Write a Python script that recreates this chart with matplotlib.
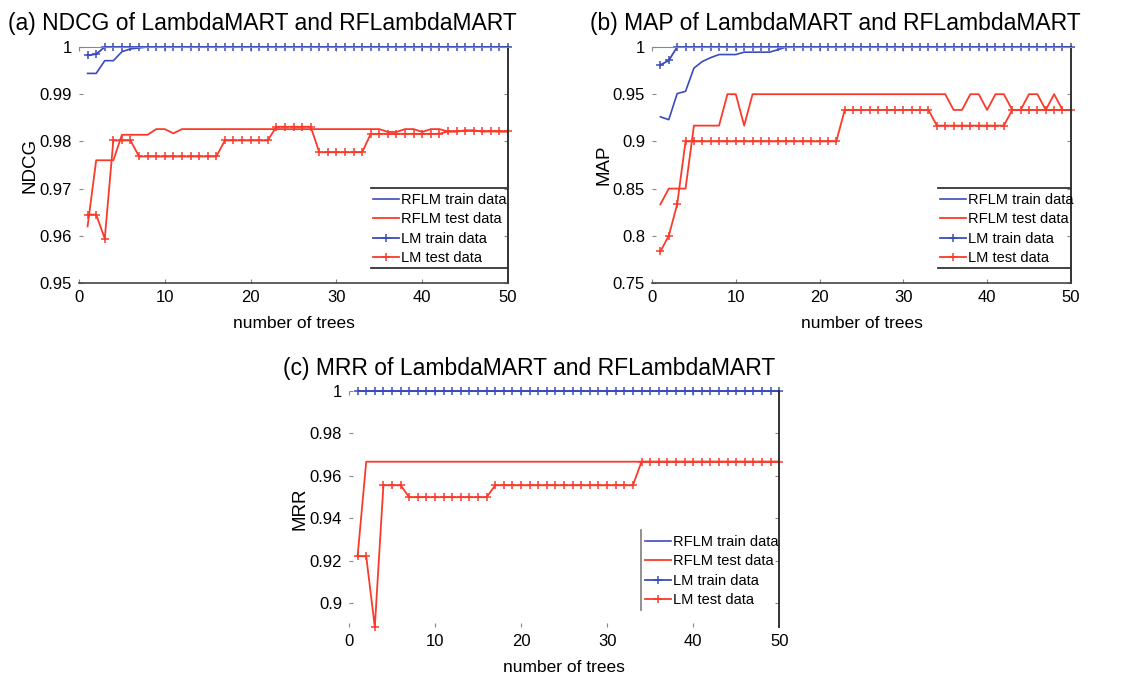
import matplotlib
matplotlib.use("Agg")
import matplotlib.pyplot as plt
import numpy as np

plt.rcParams['font.family'] = ['Liberation Sans', 'DejaVu Sans']

trees = np.arange(1, 51)

# (a) NDCG
ndcg_rflm_train = [0.9944, 0.9944, 0.9971, 0.9971, 0.9990, 0.9996, 0.9998] + [1.0] * 43
ndcg_rflm_test = ([0.9620] + [0.9760] * 3 + [0.9814] * 4 + [0.9826, 0.9826, 0.9817] + [0.9826] * 24
                  + [0.9820, 0.9820, 0.9826, 0.9826, 0.9820, 0.9826, 0.9826, 0.9821,
                     0.9821, 0.9823, 0.9823, 0.9821, 0.9822, 0.9821, 0.9821])
ndcg_lm_train = [0.9982, 0.9985] + [1.0] * 48
ndcg_lm_test = ([0.9645, 0.9645, 0.9594] + [0.9802] * 3 + [0.9768] * 10 + [0.9802] * 6
                + [0.9831] * 5 + [0.9777] * 6 + [0.9816] * 9
                + [0.9821, 0.9821, 0.9823, 0.9823, 0.9821, 0.9821, 0.9821, 0.9821])

# (b) MAP
map_rflm_train = ([0.9260, 0.9230, 0.9506, 0.9530, 0.9776, 0.9846, 0.9887, 0.9920, 0.9920,
                   0.9920, 0.9945, 0.9945, 0.9945, 0.9945, 0.9970] + [1.0] * 35)
map_rflm_test = ([0.8333] + [0.85] * 3 + [0.9167] * 4 + [0.95, 0.95, 0.9167] + [0.95] * 24
                 + [0.9333, 0.9333, 0.95, 0.95, 0.9333, 0.95, 0.95, 0.9333, 0.9333,
                    0.95, 0.95, 0.9333, 0.95, 0.9333, 0.9333])
map_lm_train = [0.9810, 0.9857] + [1.0] * 48
map_lm_test = ([0.7835, 0.8000, 0.8333] + [0.9] * 19 + [0.9333] * 11 + [0.9167] * 9
               + [0.9333] * 8)

# (c) MRR
mrr_rflm_train = [1.0] * 50
mrr_rflm_test = [0.9222] + [0.9667] * 49
mrr_lm_train = [1.0] * 50
mrr_lm_test = ([0.9222, 0.9222, 0.8889] + [0.9556] * 3 + [0.95] * 10 + [0.9556] * 17
               + [0.9667] * 17)

labels = ['RFLM train data', 'RFLM test data', 'LM train data', 'LM test data']
blue = '#3b4bbd'
red = '#fa3a2a'

fig = plt.figure(figsize=(11.32, 6.77), dpi=100)


def panel(rect, series, ylim, yticks, yticklabels, ylabel, title, title_xy, leg, spines):
    ax = fig.add_axes(rect)
    rt, rs, lt, ls = series
    ax.plot(trees, rt, color=blue, lw=1.2, label=labels[0], clip_on=False)
    ax.plot(trees, rs, color=red, lw=1.3, label=labels[1], clip_on=False)
    ax.plot(trees, lt, color=blue, lw=1.3, marker='+', ms=5.5, mew=1.1, label=labels[2],
            clip_on=False)
    ax.plot(trees, ls, color=red, lw=1.3, marker='+', ms=5.5, mew=1.1, label=labels[3],
            clip_on=False)
    ax.set_xlim(0, 50)
    ax.set_ylim(*ylim)
    ax.set_xticks([0, 10, 20, 30, 40, 50])
    ax.set_yticks(yticks)
    ax.set_yticklabels(yticklabels)
    ax.tick_params(direction='in', length=3, color='#888888', labelsize=12,
                   top=True, right=True, pad=5)
    ax.set_xlabel('number of trees', fontsize=12.5)
    ax.set_ylabel(ylabel, fontsize=13.5)
    ax.xaxis.set_label_coords(0.5, -0.14)
    ax.yaxis.set_label_coords(-0.095, 0.5)
    ax.spines['left'].set_visible(False)
    ax.spines['top'].set_visible(spines)
    ax.spines['bottom'].set_visible(spines)
    ax.spines['top'].set_color('#888888')
    ax.spines['bottom'].set_color('#444444')
    ax.spines['right'].set_color('#333333')
    ax.spines['right'].set_linewidth(1.4)
    ax.spines['bottom'].set_linewidth(1.2)
    fig.text(title_xy[0], title_xy[1], title, fontsize=16.5, ha='left', va='center')

    lx, ly, l0, l1, box = leg
    ax.legend(loc='center left', bbox_to_anchor=(lx, ly), frameon=False, fontsize=10.5,
              borderpad=0, borderaxespad=0, handlelength=1.8, handletextpad=0.15,
              labelspacing=0.38)
    if box:
        for yy in (l0, l1):
            ax.plot([lx - 0.004, 1.0], [yy, yy], transform=ax.transAxes, color='#333333',
                    lw=1.3, clip_on=False)
    else:
        ax.plot([lx - 0.009, lx - 0.009], [l0, l1], transform=ax.transAxes, color='#888888',
                lw=1.3, clip_on=False)
    return ax


panel([0.0698, 0.582, 0.379, 0.3486],
      (ndcg_rflm_train, ndcg_rflm_test, ndcg_lm_train, ndcg_lm_test),
      (0.95, 1.0), [0.95, 0.96, 0.97, 0.98, 0.99, 1.0],
      ['0.95', '0.96', '0.97', '0.98', '0.99', '1'], 'NDCG',
      '(a) NDCG of LambdaMART and RFLambdaMART', (0.007, 0.965),
      (0.685, 0.229, 0.4025, 0.0636, True), True)

panel([0.576, 0.582, 0.370, 0.3486],
      (map_rflm_train, map_rflm_test, map_lm_train, map_lm_test),
      (0.75, 1.0), [0.75, 0.8, 0.85, 0.9, 0.95, 1.0],
      ['0.75', '0.8', '0.85', '0.9', '0.95', '1'], 'MAP',
      '(b) MAP of LambdaMART and RFLambdaMART', (0.521, 0.965),
      (0.687, 0.229, 0.4025, 0.0636, True), True)

panel([0.3083, 0.0739, 0.380, 0.3486],
      (mrr_rflm_train, mrr_rflm_test, mrr_lm_train, mrr_lm_test),
      (0.8889, 1.0), [0.9, 0.92, 0.94, 0.96, 0.98, 1.0],
      ['0.9', '0.92', '0.94', '0.96', '0.98', '1'], 'MRR',
      '(c) MRR of LambdaMART and RFLambdaMART', (0.25, 0.4557),
      (0.688, 0.237, 0.411, 0.072, False), False)

fig.savefig('out.png', dpi=100)
